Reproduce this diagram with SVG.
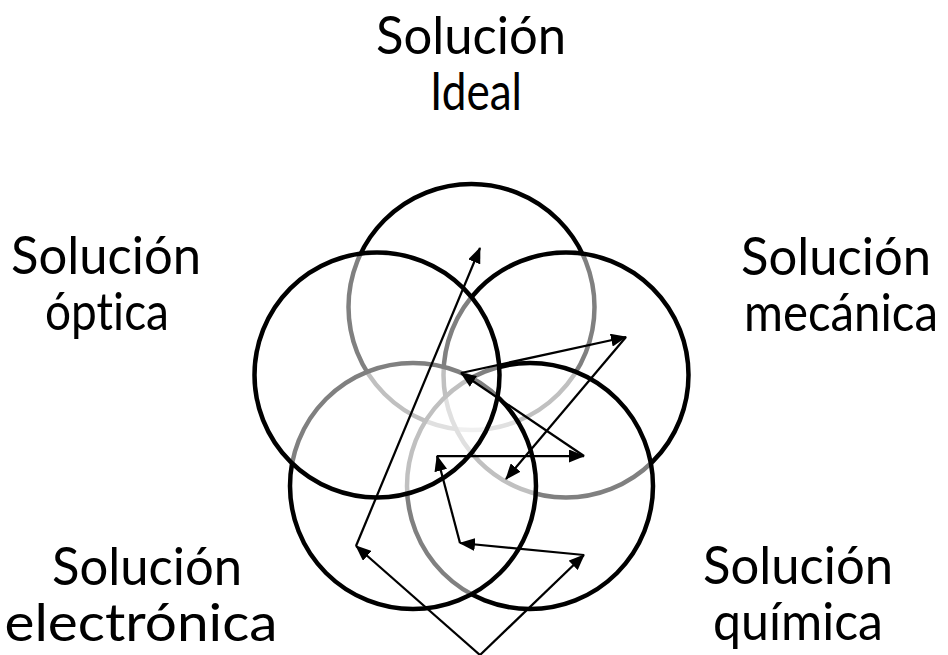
<svg xmlns="http://www.w3.org/2000/svg" width="948" height="655" viewBox="0 0 948 655">
  <style>
    .ring { fill: #ffffff; fill-opacity: 0.5; stroke: #000000; stroke-width: 4.5; }
    .lbl { font-family: "Lato", "Open Sans", "Liberation Sans", sans-serif; font-size: 52px; fill: #000000; text-anchor: middle; font-variant-ligatures: none; font-feature-settings: "liga" 0, "clig" 0; }
    .arr { fill: none; stroke: #000000; stroke-width: 2.25; marker-end: url(#head); }
  </style>
  <defs>
    <marker id="head" markerUnits="userSpaceOnUse" viewBox="0 0 16 13" markerWidth="16" markerHeight="13" refX="15" refY="6.5" orient="auto">
      <path d="M0,0 L16,6.5 L0,13 z" fill="#000000"/>
    </marker>
  </defs>
  <rect width="948" height="655" fill="#ffffff"/>

  <g id="node-ideal">
    <circle class="ring" cx="471.5" cy="307" r="123"/>
    <text class="lbl" x="471" y="54" textLength="190" lengthAdjust="spacingAndGlyphs">Solución</text>
    <text class="lbl" x="476" y="110" textLength="92" lengthAdjust="spacingAndGlyphs">Ideal</text>
  </g>
  <g id="node-mecanica">
    <circle class="ring" cx="566" cy="375" r="122.5"/>
    <text class="lbl" x="836" y="275" textLength="190" lengthAdjust="spacingAndGlyphs">Solución</text>
    <text class="lbl" x="841" y="331" textLength="194" lengthAdjust="spacingAndGlyphs">mecánica</text>
  </g>
  <g id="node-quimica">
    <circle class="ring" cx="530" cy="486" r="123"/>
    <text class="lbl" x="798" y="584" textLength="190" lengthAdjust="spacingAndGlyphs">Solución</text>
    <text class="lbl" x="798" y="640" textLength="170" lengthAdjust="spacingAndGlyphs">química</text>
  </g>
  <g id="node-electronica">
    <circle class="ring" cx="413" cy="486" r="123"/>
    <text class="lbl" x="147" y="585" textLength="190" lengthAdjust="spacingAndGlyphs">Solución</text>
    <text class="lbl" x="141" y="641" textLength="273" lengthAdjust="spacingAndGlyphs">electrónica</text>
  </g>
  <g id="node-optica">
    <circle class="ring" cx="377" cy="375" r="122.5"/>
    <text class="lbl" x="106" y="274" textLength="190" lengthAdjust="spacingAndGlyphs">Solución</text>
    <text class="lbl" x="107" y="330" textLength="124" lengthAdjust="spacingAndGlyphs">óptica</text>
  </g>

  <g id="connectors">
    <line class="arr" x1="480" y1="655" x2="356" y2="546"/>
    <line class="arr" x1="480" y1="655" x2="584" y2="555"/>
    <line class="arr" x1="584" y1="555" x2="460" y2="543"/>
    <line class="arr" x1="460" y1="543" x2="437" y2="456"/>
    <line class="arr" x1="437" y1="456" x2="584" y2="456"/>
    <line class="arr" x1="584" y1="456" x2="461" y2="373"/>
    <line class="arr" x1="461" y1="373" x2="626" y2="337"/>
    <line class="arr" x1="626" y1="337" x2="506" y2="479"/>
    <line class="arr" x1="356" y1="546" x2="480" y2="248"/>
  </g>
</svg>
